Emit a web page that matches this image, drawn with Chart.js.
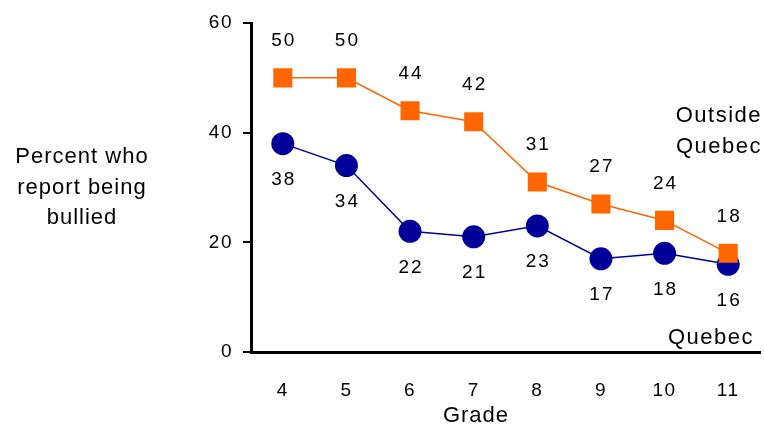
<!DOCTYPE html>
<html>
<head>
<meta charset="utf-8">
<script src="https://cdn.jsdelivr.net/npm/chart.js@4/dist/chart.umd.min.js"></script>
<style>
  html, body { margin: 0; padding: 0; background: #fff; overflow: hidden; }
  #wrap { position: relative; width: 764px; height: 430px; }
  canvas { display: block; }
</style>
</head>
<body>
<div id="wrap"><canvas id="bullyChart"></canvas></div>
<script>
// Grade levels and percent reporting bullying
const grades = ['4', '5', '6', '7', '8', '9', '10', '11'];
const outsideQuebec = [50, 50, 44, 42, 31, 27, 24, 18];
const quebec = [38, 34, 22, 21, 23, 17, 18, 16];
const yTicks = [0, 20, 40, 60];

const FONT = '"Liberation Sans", Arial, sans-serif';

// wider letter spacing like the original
const spacingPlugin = {
    id: 'spacingPlugin',
    beforeDraw(chart) {
        chart.ctx.letterSpacing = '1.5px';
    }
};

// draws the value labels, series names and the left-hand axis caption
const textPlugin = {
    id: 'textPlugin',
    afterDatasetsDraw(chart) {
        const ctx = chart.ctx;
        ctx.save();
        ctx.fillStyle = '#000';
        ctx.font = '19px ' + FONT;
        ctx.letterSpacing = '2px';
        ctx.textAlign = 'center';
        ctx.textBaseline = 'middle';

        chart.data.datasets.forEach((ds, i) => {
            const meta = chart.getDatasetMeta(i);
            meta.data.forEach((pt, j) => {
                const off = ds.labelAbove ? -37 : 36;
                ctx.fillText(String(ds.data[j]), pt.x + 1, pt.y + off);
            });
        });

        ctx.font = '22px ' + FONT;
        ctx.letterSpacing = '1.5px';
        // series names
        ctx.textAlign = 'right';
        ctx.fillText('Outside', 762, 116);
        ctx.fillText('Quebec', 762, 147);
        ctx.fillText('Quebec', 754, 338);

        // y caption
        ctx.letterSpacing = '1px';
        ctx.textAlign = 'center';
        ctx.fillText('Percent who', 82, 157);
        ctx.fillText('report being', 82, 188);
        ctx.fillText('bullied', 82, 218);

        ctx.fillText('Grade', 476, 416);
        ctx.restore();
    }
};

const ctx = document.getElementById('bullyChart').getContext('2d');
new Chart(ctx, {
    type: 'line',
    data: {
        labels: grades,
        datasets: [
            {
                label: 'Outside Quebec',
                data: outsideQuebec,
                labelAbove: true,
                borderColor: '#FF6600',
                backgroundColor: '#FF6600',
                borderWidth: 1.5,
                pointStyle: 'rect',
                pointRadius: 13.5,
                pointHoverRadius: 13.5,
                pointBorderWidth: 0
            },
            {
                label: 'Quebec',
                data: quebec,
                labelAbove: false,
                borderColor: '#000099',
                backgroundColor: '#000099',
                borderWidth: 1.5,
                pointStyle: 'circle',
                pointRadius: 11.5,
                pointHoverRadius: 11.5,
                pointBorderWidth: 0
            }
        ]
    },
    options: {
        responsive: true,
        maintainAspectRatio: false,
        animation: false,
        events: [],
        layout: { autoPadding: false, padding: { top: 23, left: 201, right: 4, bottom: 0 } },
        plugins: {
            legend: { display: false },
            tooltip: { enabled: false }
        },
        scales: {
            x: {
                offset: true,
                grid: { display: false, drawTicks: true, tickLength: 24 },
                border: { display: true, color: '#000', width: 3 },
                ticks: { color: '#000', font: { size: 19, family: FONT }, padding: 3 },
                afterFit(s) { s.height = 78; s.paddingLeft = 0; s.paddingRight = 0; }
            },
            y: {
                min: 0,
                max: 60,
                afterBuildTicks(s) { s.ticks = yTicks.map(v => ({ value: v })); },
                grid: { drawOnChartArea: false, color: '#000', lineWidth: 2, tickLength: 8 },
                border: { display: true, color: '#000', width: 3 },
                ticks: { color: '#000', font: { size: 19, family: FONT }, padding: 10 },
                afterFit(s) { s.width = 50; }
            }
        }
    },
    plugins: [spacingPlugin, textPlugin]
});
</script>
</body>
</html>
